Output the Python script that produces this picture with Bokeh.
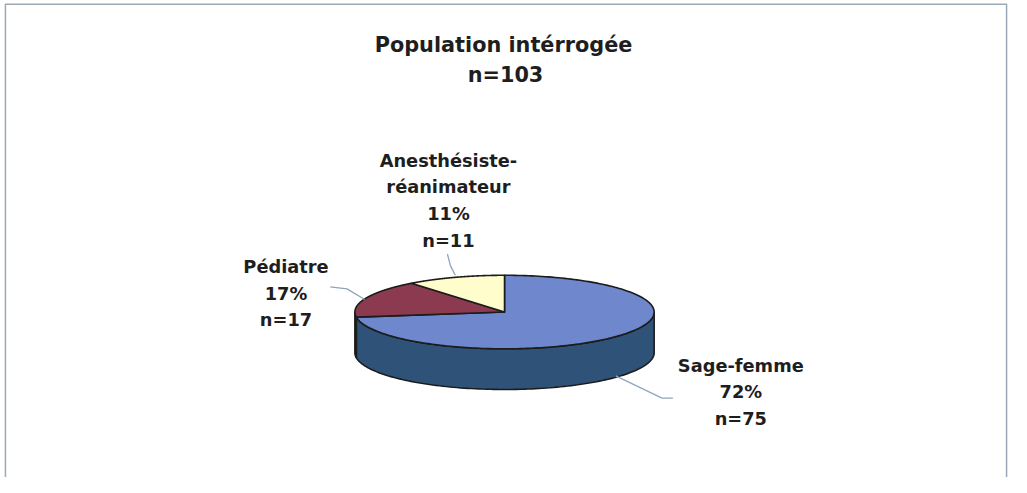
import numpy as np
from bokeh.plotting import figure
from bokeh.models import Range1d
from bokeh.core.properties import value
from bokeh.embed import file_html
from bokeh.resources import INLINE

# ---- data ----
categories = ["Sage-femme", "Pédiatre", "Anesthésiste-réanimateur"]
name_lines = [["Sage-femme"], ["Pédiatre"], ["Anesthésiste-", "réanimateur"]]
counts = [75, 17, 11]
percent_labels = ["72%", "17%", "11%"]
title_lines = ["Population intérrogée", "n=103"]

# ---- styles / layout (coordinates in reference-image units) ----
top_colors = ["#6e87cd", "#8c3a50", "#fffdcc"]
side_colors = ["#2f5278", "#5a2535", "#b0ae80"]
edge_color = "#1c1c1c"
leader_color = "#8fa5bb"
FONT = value("DejaVu Sans")
CX, CY, RX, RY, DEPTH = 512.0, 322.0, 152.0, 38.0, 42.0
label_pos = [(752, 377), (290, 275), (455, 165)]  # centre x, first baseline
LINE_GAP = 27.6
leaders = [
    [(625, 388), (672, 411), (683, 411)],
    [(335, 296), (352, 298), (370, 309)],
    [(454, 262), (457, 274), (462, 284)],
]

REF_W, REF_H = 1027, 493
W, H = 1011, 477
p = figure(width=W, height=H, output_backend="svg", toolbar_location=None,
           x_range=Range1d(0, REF_W), y_range=Range1d(REF_H, 0),
           min_border=0, outline_line_color=None)
p.axis.visible = False
p.grid.visible = False
p.background_fill_color = "white"
p.border_fill_color = "white"


def ell(t_deg, dy=0.0):
    t = np.radians(t_deg)
    return CX + RX * np.cos(t), CY - RY * np.sin(t) + dy


total = float(sum(counts))
cum = np.concatenate([[0.0], np.cumsum(counts)])
a0s = 90.0 - 360.0 * cum[:-1] / total
a1s = 90.0 - 360.0 * cum[1:] / total

# sides (front half only)
side_xs, side_ys, side_cols = [], [], []
for a0, a1, col in zip(a0s, a1s, side_colors):
    for k in range(-2, 2):
        lo, hi = max(a1, k * 360 - 180), min(a0, k * 360)
        if hi > lo:
            t = np.linspace(lo, hi, 120)
            xt, yt = ell(t)
            xb, yb = ell(t[::-1], DEPTH)
            side_xs.append(list(np.concatenate([xt, xb])))
            side_ys.append(list(np.concatenate([yt, yb])))
            side_cols.append(col)
p.patches(side_xs, side_ys, fill_color=side_cols, line_color=edge_color, line_width=1.6)

# top sectors
top_xs, top_ys = [], []
for a0, a1 in zip(a0s, a1s):
    t = np.linspace(a0, a1, 200)
    xt, yt = ell(t)
    top_xs.append([CX] + list(xt))
    top_ys.append([CY] + list(yt))
p.patches(top_xs, top_ys, fill_color=top_colors, line_color=edge_color, line_width=1.6,
          line_join="round")

# leader lines
p.multi_line([[q[0] for q in L] for L in leaders], [[q[1] for q in L] for L in leaders],
             line_color=leader_color, line_width=1.3)

# labels
tx, ty, tt = [], [], []
for (x0, y0), names, pct, n in zip(label_pos, name_lines, percent_labels, counts):
    lines = names + [pct, "n=%d" % n]
    for i, s in enumerate(lines):
        tx.append(x0)
        ty.append(y0 + i * LINE_GAP)
        tt.append(s)
p.text(tx, ty, text=tt, text_font=FONT, text_font_style="bold", text_font_size="17.8px",
       text_align="center", text_baseline="alphabetic", text_color="#1e1e1e")

# title
p.text([511, 513], [45.7, 77.3], text=title_lines, text_font=FONT, text_font_style="bold",
       text_font_size="20.8px", text_align="center", text_baseline="alphabetic",
       text_color="#1e1e1e")

# frame border (open at bottom)
p.multi_line([[5, 5, 1022, 1022]], [[493, 4, 4, 493]], line_color="#9aa8b8", line_width=1.5)

open("out.html", "w").write(file_html(p, INLINE))
